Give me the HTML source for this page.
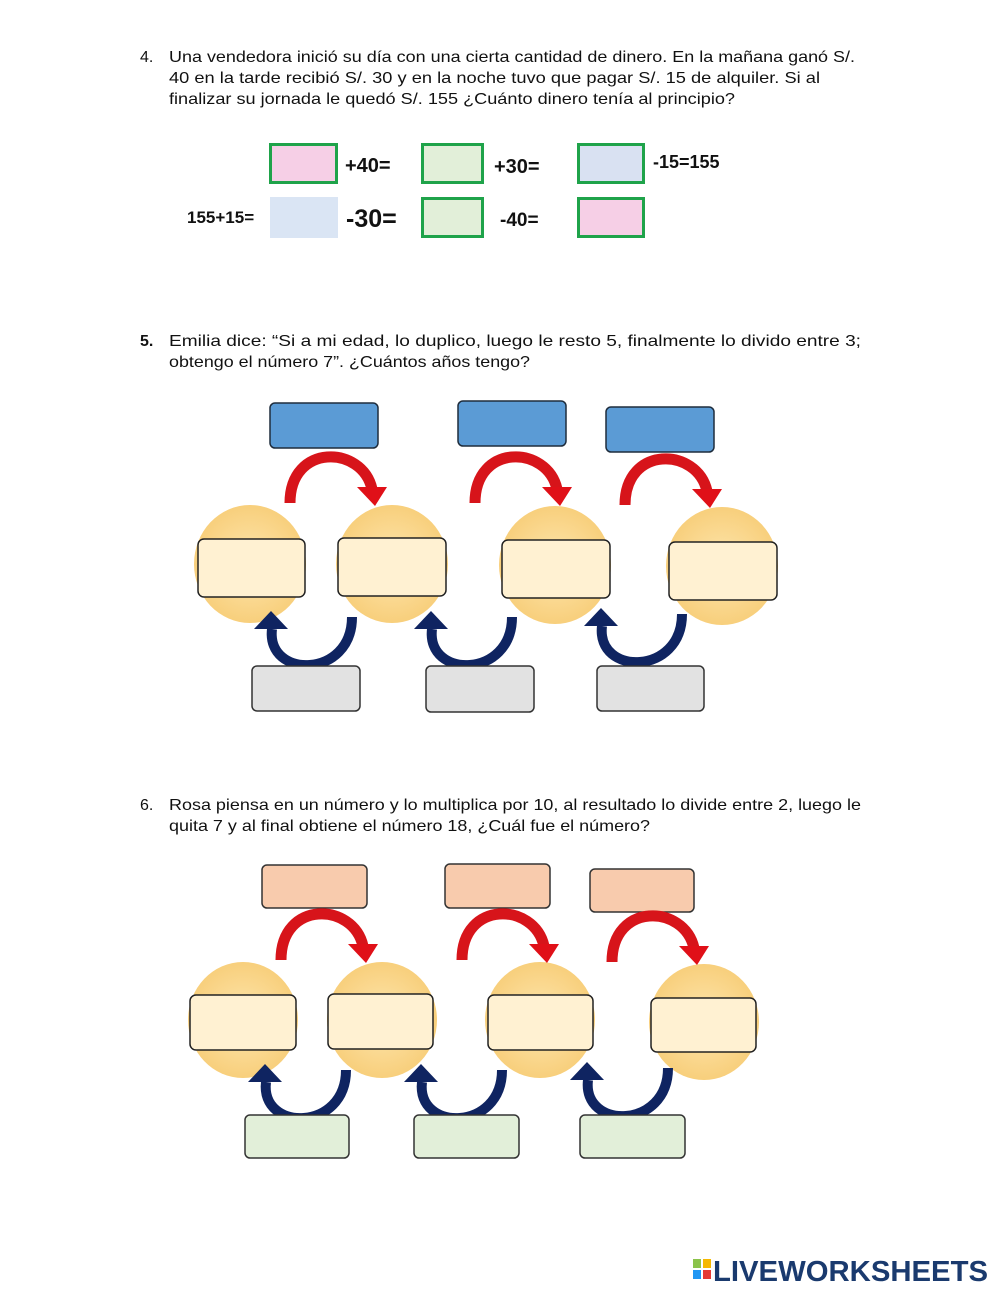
<!DOCTYPE html>
<html><head><meta charset="utf-8"><style>
html,body{margin:0;padding:0;background:#fff}
svg{display:block}
text{font-family:"Liberation Sans",Arial,sans-serif}
</style></head><body>
<svg width="1000" height="1294" viewBox="0 0 1000 1294" xmlns="http://www.w3.org/2000/svg">
<defs>
<radialGradient id="cg" cx="50%" cy="50%" r="50%">
<stop offset="0" stop-color="#fde6ae"/><stop offset="1" stop-color="#f8cf7c"/>
</radialGradient>
<g id="red"><path d="M0 0 C0 -60 72 -58 82 -14" fill="none" stroke="#d7141a" stroke-width="11"/><polygon points="67,-16 97,-16 85,3" fill="#e01018"/></g>
<g id="blue"><path d="M88 0 C88 62 2 62 8 12" fill="none" stroke="#0f2461" stroke-width="10"/><polygon points="-10,12 24,12 7,-6" fill="#0f2461"/></g>
</defs>
<g font-size="16" fill="#111">
<text x="140" y="62">4.</text>
<text x="169" y="62" textLength="686" lengthAdjust="spacingAndGlyphs">Una vendedora inició su día con una cierta cantidad de dinero. En la mañana ganó S/.</text>
<text x="169" y="83" textLength="651" lengthAdjust="spacingAndGlyphs">40 en la tarde recibió S/. 30  y en la noche tuvo que pagar S/. 15  de alquiler. Si al</text>
<text x="169" y="104" textLength="566" lengthAdjust="spacingAndGlyphs">finalizar su jornada le quedó S/. 155  ¿Cuánto dinero tenía al principio?</text>
<text x="140" y="346" font-weight="bold">5.</text>
<text x="169" y="346" textLength="692" lengthAdjust="spacingAndGlyphs">Emilia dice: “Si a mi edad, lo duplico, luego le resto 5, finalmente lo divido entre 3;</text>
<text x="169" y="367" textLength="361" lengthAdjust="spacingAndGlyphs">obtengo el número 7”. ¿Cuántos años tengo?</text>
<text x="140" y="810">6.</text>
<text x="169" y="810" textLength="692" lengthAdjust="spacingAndGlyphs">Rosa piensa en un número y lo multiplica por 10, al resultado lo divide entre 2, luego le</text>
<text x="169" y="831" textLength="481" lengthAdjust="spacingAndGlyphs">quita 7 y al final obtiene el número 18, ¿Cuál fue el número?</text>
</g>
<g stroke="#1fa34a" stroke-width="3">
<rect x="270.5" y="144.5" width="66" height="38" fill="#f6cfe6"/>
<rect x="422.5" y="144.5" width="60" height="38" fill="#e2efd9"/>
<rect x="578.5" y="144.5" width="65" height="38" fill="#d9e1f2"/>
<rect x="422.5" y="198.5" width="60" height="38" fill="#e2efd9"/>
<rect x="578.5" y="198.5" width="65" height="38" fill="#f6cfe6"/>
</g>
<rect x="270" y="197" width="68" height="41" fill="#dae5f4"/>
<g font-weight="bold" fill="#111">
<text x="345" y="172" font-size="20">+40=</text>
<text x="494" y="173" font-size="20">+30=</text>
<text x="653" y="168" font-size="18">-15=155</text>
<text x="187" y="223" font-size="17">155+15=</text>
<text x="346" y="227" font-size="25">-30=</text>
<text x="500" y="226" font-size="19">-40=</text>
</g>
<g>
<g fill="#5b9bd5" stroke="#1f2d3d" stroke-width="1.5">
<rect x="270" y="403" width="108" height="45" rx="5"/>
<rect x="458" y="401" width="108" height="45" rx="5"/>
<rect x="606" y="407" width="108" height="45" rx="5"/>
</g>
<g fill="url(#cg)">
<ellipse cx="250" cy="564" rx="56" ry="59"/>
<ellipse cx="392" cy="564" rx="56" ry="59"/>
<ellipse cx="555" cy="565" rx="56" ry="59"/>
<ellipse cx="722" cy="566" rx="56" ry="59"/>
</g>
<g fill="#fff1d2" stroke="#222" stroke-width="1.5">
<rect x="198" y="539" width="107" height="58" rx="6"/>
<rect x="338" y="538" width="108" height="58" rx="6"/>
<rect x="502" y="540" width="108" height="58" rx="6"/>
<rect x="669" y="542" width="108" height="58" rx="6"/>
</g>
<use href="#red" x="290" y="503"/>
<use href="#red" x="475" y="503"/>
<use href="#red" x="625" y="505"/>
<use href="#blue" x="264" y="617"/>
<use href="#blue" x="424" y="617"/>
<use href="#blue" x="594" y="614"/>
<g fill="#e2e2e2" stroke="#333" stroke-width="1.5">
<rect x="252" y="666" width="108" height="45" rx="5"/>
<rect x="426" y="666" width="108" height="46" rx="5"/>
<rect x="597" y="666" width="107" height="45" rx="5"/>
</g>
</g>
<g>
<g fill="#f8cbad" stroke="#333" stroke-width="1.5">
<rect x="262" y="865" width="105" height="43" rx="5"/>
<rect x="445" y="864" width="105" height="44" rx="5"/>
<rect x="590" y="869" width="104" height="43" rx="5"/>
</g>
<g fill="url(#cg)">
<ellipse cx="243" cy="1020" rx="55" ry="58"/>
<ellipse cx="382" cy="1020" rx="55" ry="58"/>
<ellipse cx="540" cy="1020" rx="55" ry="58"/>
<ellipse cx="704" cy="1022" rx="55" ry="58"/>
</g>
<g fill="#fff1d2" stroke="#222" stroke-width="1.5">
<rect x="190" y="995" width="106" height="55" rx="6"/>
<rect x="328" y="994" width="105" height="55" rx="6"/>
<rect x="488" y="995" width="105" height="55" rx="6"/>
<rect x="651" y="998" width="105" height="54" rx="6"/>
</g>
<use href="#red" x="281" y="960"/>
<use href="#red" x="462" y="960"/>
<use href="#red" x="612" y="962"/>
<use href="#blue" x="258" y="1070"/>
<use href="#blue" x="414" y="1070"/>
<use href="#blue" x="580" y="1068"/>
<g fill="#e2efd9" stroke="#333" stroke-width="1.5">
<rect x="245" y="1115" width="104" height="43" rx="5"/>
<rect x="414" y="1115" width="105" height="43" rx="5"/>
<rect x="580" y="1115" width="105" height="43" rx="5"/>
</g>
</g>
<rect x="693" y="1259" width="8" height="9" fill="#8bc34a"/>
<rect x="703" y="1259" width="8" height="9" fill="#f5b800"/>
<rect x="693" y="1270" width="8" height="9" fill="#2196f3"/>
<rect x="703" y="1270" width="8" height="9" fill="#e53935"/>
<text x="713" y="1281" font-size="29" font-weight="bold" fill="#1a3a6e" textLength="275" lengthAdjust="spacingAndGlyphs">LIVEWORKSHEETS</text>
</svg>
</body></html>
